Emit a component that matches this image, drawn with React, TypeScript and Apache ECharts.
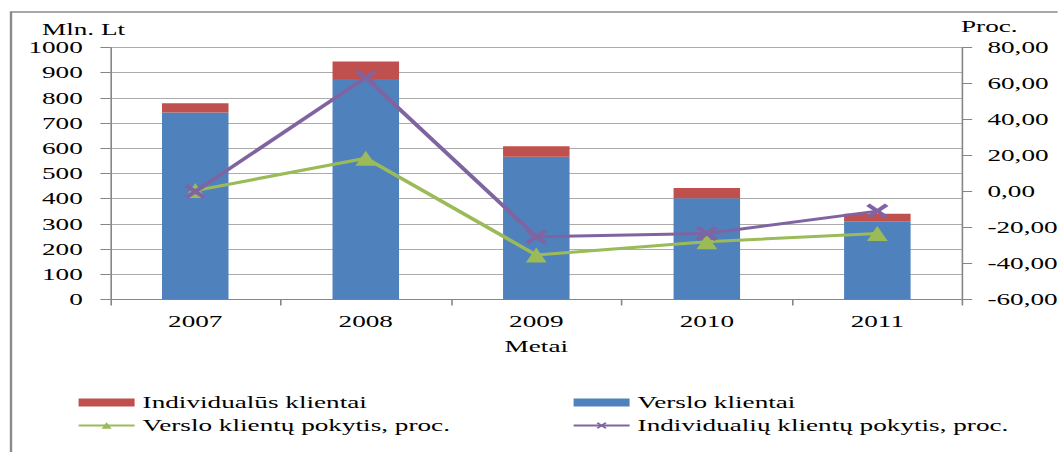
import React, { useEffect, useRef } from "react";
import * as echarts from "echarts";

// Chart is laid out in a narrower box and widened with scaleX,
// giving the broad, stretched serif lettering of the spreadsheet export.
const PAGE_W = 1058;
const PAGE_H = 452;
const STRETCH = 1.6;
const BOX_W = PAGE_W / STRETCH;
const sx = (x: number) => x / STRETCH;

const years = ["2007", "2008", "2009", "2010", "2011"];
const verslo = [742, 875, 566, 402, 311];
const individualus = [37, 69, 42, 40, 29];
const versloPokytis = [0.5, 18.5, -35.3, -27.9, -23.3];
const individualiuPokytis = [0, 63.3, -25.1, -23.3, -10.9];

const leftTicks = { min: 0, max: 1000, interval: 100 };
const rightTicks = { min: -60, max: 80, interval: 20 };

const FONT = "'Liberation Serif', 'Times New Roman', serif";
const AXIS_GRAY = "#868686";
const GRID_GRAY = "#ababab";

const X_MARK =
  "path://M0,1.6L1.6,0L10,8.4L8.4,10Z M8.4,0L10,1.6L1.6,10L0,8.4Z";

export default function App() {
  const ref = useRef<HTMLDivElement>(null);

  useEffect(() => {
    if (!ref.current) return;
    const chart = echarts.init(ref.current, null, { renderer: "svg" });

    const labelStyle = { fontFamily: FONT, fontSize: 17, color: "#000" };
    const legendBase = {
      orient: "vertical",
      top: 394,
      padding: 0,
      itemGap: 6,
      itemWidth: 35,
      itemHeight: 8,
      textStyle: { fontFamily: FONT, fontSize: 17, color: "#000" },
    };

    chart.setOption({
      animation: false,
      backgroundColor: "#fff",
      grid: {
        left: sx(110),
        right: BOX_W - sx(963),
        top: 47.5,
        bottom: PAGE_H - 299.5,
        outerBoundsMode: "none",
      },
      legend: [
        {
          ...legendBase,
          left: sx(77),
          data: [
            { name: "Individualūs klientai", icon: "rect" },
            { name: "Verslo klientų pokytis, proc." },
          ],
        },
        {
          ...legendBase,
          left: sx(572),
          data: [
            { name: "Verslo klientai", icon: "rect" },
            { name: "Individualių klientų pokytis, proc." },
          ],
        },
      ],
      graphic: [
        {
          type: "rect",
          shape: { x: sx(11), y: 12, width: 800, height: 600 },
          style: { fill: "none", stroke: "#8a8a8a", lineWidth: 1.5 },
          silent: true,
        },
        {
          type: "text",
          x: sx(42),
          y: 29,
          style: {
            text: "Mln. Lt",
            font: `17px ${FONT}`,
            fill: "#000",
            textAlign: "left",
            textVerticalAlign: "middle",
          },
        },
        {
          type: "text",
          x: sx(961),
          y: 26,
          style: {
            text: "Proc.",
            font: `17px ${FONT}`,
            fill: "#000",
            textAlign: "left",
            textVerticalAlign: "middle",
          },
        },
      ],
      xAxis: {
        type: "category",
        data: years,
        axisLine: { lineStyle: { color: AXIS_GRAY, width: 1 } },
        axisTick: { show: true, length: 6, lineStyle: { color: AXIS_GRAY } },
        axisLabel: { ...labelStyle, margin: 13 },
        name: "Metai",
        nameLocation: "middle",
        nameGap: 38,
        nameTextStyle: labelStyle,
      },
      yAxis: [
        {
          type: "value",
          ...leftTicks,
          axisLine: { show: true, lineStyle: { color: AXIS_GRAY, width: 1 } },
          axisTick: { show: true, length: 6, lineStyle: { color: AXIS_GRAY } },
          axisLabel: {
            ...labelStyle,
            margin: 17,
            formatter: (v: number) => String(v),
          },
          splitLine: { lineStyle: { color: GRID_GRAY, width: 1 } },
        },
        {
          type: "value",
          position: "right",
          ...rightTicks,
          axisLine: { show: true, lineStyle: { color: AXIS_GRAY, width: 1 } },
          axisTick: { show: true, length: 6, lineStyle: { color: AXIS_GRAY } },
          axisLabel: {
            ...labelStyle,
            margin: 15.5,
            formatter: (v: number) => v.toFixed(2).replace(".", ","),
          },
          splitLine: { show: false },
        },
      ],
      series: [
        {
          name: "Verslo klientai",
          type: "bar",
          stack: "total",
          yAxisIndex: 0,
          barWidth: "39%",
          itemStyle: { color: "#4F81BD" },
          data: verslo,
        },
        {
          name: "Individualūs klientai",
          type: "bar",
          stack: "total",
          yAxisIndex: 0,
          barWidth: "39%",
          itemStyle: { color: "#C0504D" },
          data: individualus,
        },
        {
          name: "Verslo klientų pokytis, proc.",
          type: "line",
          yAxisIndex: 1,
          symbol: "triangle",
          symbolSize: [13, 15],
          lineStyle: { color: "#9BBB59", width: 3 },
          itemStyle: { color: "#9BBB59" },
          data: versloPokytis,
        },
        {
          name: "Individualių klientų pokytis, proc.",
          type: "line",
          yAxisIndex: 1,
          symbol: X_MARK,
          symbolSize: [14, 15],
          lineStyle: { color: "#8064A2", width: 3 },
          itemStyle: { color: "#8064A2" },
          data: individualiuPokytis,
        },
      ],
    });

    return () => chart.dispose();
  }, []);

  return (
    <div
      style={{
        position: "absolute",
        left: 0,
        top: 0,
        width: PAGE_W,
        height: PAGE_H,
        overflow: "hidden",
        background: "#fff",
      }}
    >
      <div
        ref={ref}
        style={{
          width: BOX_W,
          height: PAGE_H,
          transform: `scaleX(${STRETCH})`,
          transformOrigin: "0 0",
        }}
      />
    </div>
  );
}
